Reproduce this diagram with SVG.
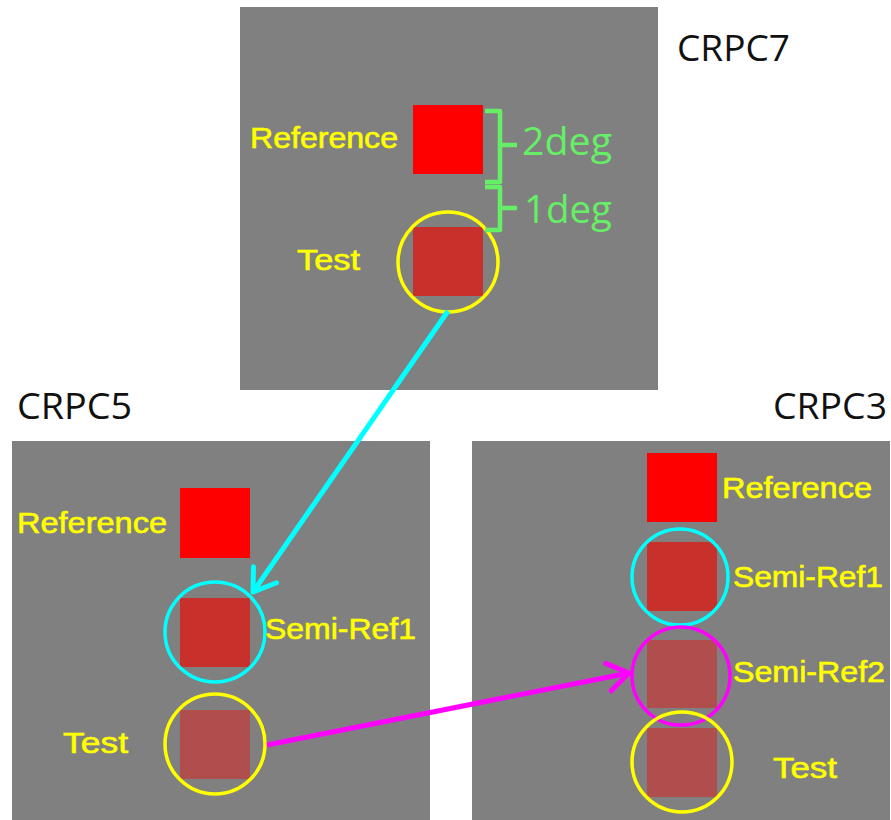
<svg xmlns="http://www.w3.org/2000/svg" width="891" height="820" viewBox="0 0 891 820">
<defs>
<style>
.panel{fill:#808080;}
.ref{fill:#ff0000;}
.sr1{fill:#c8302c;}
.tst{fill:#b04e4e;}
.lbl{font-family:"Liberation Sans",Arial,sans-serif;font-size:29px;fill:#ffff00;stroke:#ffff00;stroke-width:0.6;}
.title{font-family:"Open Sans","Liberation Sans",sans-serif;font-size:36px;fill:#111;}
.deg{font-family:"Open Sans","Liberation Sans",sans-serif;font-size:38px;fill:#66ee66;}
.brace{fill:none;stroke:#66ee66;stroke-width:4.5;stroke-linejoin:round;}
.cy{fill:none;stroke:#00ffff;stroke-width:3.5;}
.ye{fill:none;stroke:#ffff00;stroke-width:3.5;}
.mg{fill:none;stroke:#ff00ff;stroke-width:3.5;}
</style>
<marker id="ahC" markerUnits="userSpaceOnUse" markerWidth="40" markerHeight="40" refX="0" refY="0" viewBox="-30 -20 40 40" orient="auto" overflow="visible">
<path d="M-21,-14 L0,0 L-21,14" fill="none" stroke="#00ffff" stroke-width="5" stroke-linecap="round" stroke-linejoin="round"/>
</marker>
<marker id="ahM" markerUnits="userSpaceOnUse" markerWidth="40" markerHeight="40" refX="0" refY="0" viewBox="-30 -20 40 40" orient="auto" overflow="visible">
<path d="M-21,-14 L0,0 L-21,14" fill="none" stroke="#ff00ff" stroke-width="5" stroke-linecap="round" stroke-linejoin="round"/>
</marker>
</defs>
<rect width="891" height="820" fill="#ffffff"/>

<g id="crpc7">
<rect class="panel" x="240" y="7" width="418" height="383"/>
<text class="title" x="677" y="61" textLength="113" lengthAdjust="spacingAndGlyphs">CRPC7</text>
<text class="lbl" x="250" y="148" textLength="148" lengthAdjust="spacingAndGlyphs">Reference</text>
<rect class="ref" x="413" y="105" width="70" height="69"/>
<rect class="sr1" x="413" y="227" width="70" height="69"/>
<circle class="ye" cx="448" cy="262" r="50"/>
<text class="lbl" x="297" y="270" textLength="63" lengthAdjust="spacingAndGlyphs">Test</text>
<path class="brace" d="M485,111 L500,111 L500,145 L517,145 M500,145 L500,182 L485,182"/>
<path class="brace" d="M485,187 L500,187 L500,208 L517,208 M500,208 L500,230 L485,230"/>
<text class="deg" x="522" y="155" textLength="90" lengthAdjust="spacingAndGlyphs">2deg</text>
<text class="deg" x="524" y="223" textLength="88" lengthAdjust="spacingAndGlyphs">1deg</text>
</g>

<g id="crpc5">
<rect class="panel" x="12" y="441" width="418" height="379"/>
<text class="title" x="17" y="419" textLength="115" lengthAdjust="spacingAndGlyphs">CRPC5</text>
<text class="lbl" x="17" y="533" textLength="150" lengthAdjust="spacingAndGlyphs">Reference</text>
<rect class="ref" x="180" y="488" width="70" height="70"/>
<rect class="sr1" x="180" y="598" width="70" height="69"/>
<circle class="cy" cx="215" cy="632" r="50"/>
<text class="lbl" x="265" y="639" textLength="151" lengthAdjust="spacingAndGlyphs">Semi-Ref1</text>
<rect class="tst" x="180" y="710" width="70" height="69"/>
<circle class="ye" cx="215" cy="744" r="50"/>
<text class="lbl" x="63" y="753" textLength="65" lengthAdjust="spacingAndGlyphs">Test</text>
</g>

<g id="crpc3">
<rect class="panel" x="472" y="441" width="418" height="379"/>
<text class="title" x="773" y="419" textLength="114" lengthAdjust="spacingAndGlyphs">CRPC3</text>
<rect class="ref" x="647" y="453" width="70" height="69"/>
<text class="lbl" x="722" y="498" textLength="150" lengthAdjust="spacingAndGlyphs">Reference</text>
<rect class="sr1" x="647" y="542" width="70" height="69"/>
<circle class="cy" cx="680" cy="577" r="48"/>
<text class="lbl" x="733" y="587" textLength="150" lengthAdjust="spacingAndGlyphs">Semi-Ref1</text>
<rect class="tst" x="647" y="640" width="70" height="68"/>
<circle class="mg" cx="681" cy="676" r="49"/>
<text class="lbl" x="733" y="682" textLength="152" lengthAdjust="spacingAndGlyphs">Semi-Ref2</text>
<rect class="tst" x="647" y="728" width="70" height="69"/>
<circle class="ye" cx="682" cy="762" r="50"/>
<text class="lbl" x="773" y="778" textLength="64" lengthAdjust="spacingAndGlyphs">Test</text>
</g>

<g id="connectors">
<line x1="448" y1="311" x2="253" y2="592" stroke="#00ffff" stroke-width="5" marker-end="url(#ahC)"/>
<line x1="267" y1="745" x2="629" y2="673" stroke="#ff00ff" stroke-width="5" marker-end="url(#ahM)"/>
</g>
</svg>
